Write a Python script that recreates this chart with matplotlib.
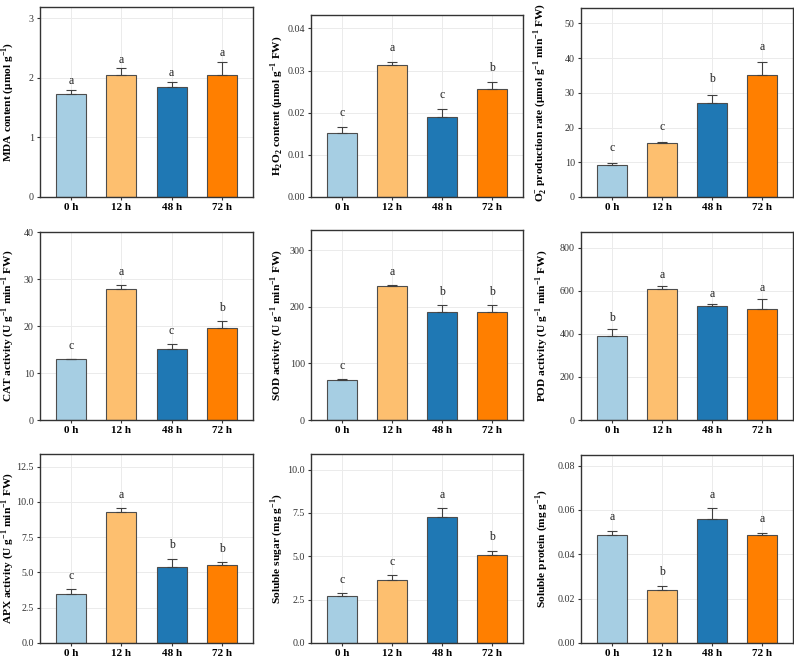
import matplotlib.pyplot as plt
import numpy as np

plt.rcParams['font.family'] = ['Liberation Serif', 'DejaVu Serif']
plt.rcParams['mathtext.fontset'] = 'custom'
plt.rcParams['mathtext.rm'] = 'Liberation Serif'
plt.rcParams['mathtext.bf'] = 'Liberation Serif:bold'

# Data
groups = ['0 h', '12 h', '48 h', '72 h']
colors = ['#a6cee3', '#fdbf6f', '#1f78b4', '#ff7f00']

mda = [1.73, 2.05, 1.85, 2.05]
mda_err = [0.07, 0.11, 0.08, 0.22]
mda_sig = ['a', 'a', 'a', 'a']

h2o2 = [0.0152, 0.0313, 0.0190, 0.0256]
h2o2_err = [0.0014, 0.0008, 0.0020, 0.0018]
h2o2_sig = ['c', 'a', 'c', 'b']

o2 = [9.3, 15.5, 27.1, 35.1]
o2_err = [0.5, 0.3, 2.4, 3.7]
o2_sig = ['c', 'c', 'b', 'a']

cat = [12.95, 27.9, 15.1, 19.7]
cat_err = [0.15, 0.85, 1.1, 1.4]
cat_sig = ['c', 'a', 'c', 'b']

sod = [70.9, 237.4, 190.8, 190.8]
sod_err = [1.7, 1.2, 12.2, 11.8]
sod_sig = ['c', 'a', 'b', 'b']

pod = [391.6, 608.0, 531.0, 514.0]
pod_err = [31.0, 17.0, 6.0, 49.0]
pod_sig = ['b', 'a', 'a', 'a']

apx = [3.49, 9.27, 5.38, 5.54]
apx_err = [0.31, 0.28, 0.59, 0.19]
apx_sig = ['c', 'a', 'b', 'b']

sugar = [2.72, 3.64, 7.24, 5.06]
sugar_err = [0.15, 0.27, 0.52, 0.25]
sugar_sig = ['c', 'c', 'a', 'b']

protein = [0.0486, 0.0237, 0.0558, 0.0488]
protein_err = [0.0020, 0.0020, 0.0050, 0.0010]
protein_sig = ['a', 'b', 'a', 'a']

panels = [
    (mda, mda_err, mda_sig, r'MDA content ($\mathbf{\mu}$mol g$^{\mathbf{-1}}$)', 3.19, [0, 1, 2, 3], '%g', 2),
    (h2o2, h2o2_err, h2o2_sig, r'H$_{\mathbf{2}}$O$_{\mathbf{2}}$ content ($\mathbf{\mu}$mol g$^{\mathbf{-1}}$ FW)', 0.0432,
     [0, 0.01, 0.02, 0.03, 0.04], '%.2f', 5.5),
    (o2, o2_err, o2_sig, r'O$_{\mathbf{2}}^{\mathbf{-}}$ production rate ($\mathbf{\mu}$mol g$^{\mathbf{-1}}$ min$^{\mathbf{-1}}$ FW)', 54.4,
     [0, 10, 20, 30, 40, 50], '%g', 6.5),
    (cat, cat_err, cat_sig, r'CAT activity (U g$^{\mathbf{-1}}$ min$^{\mathbf{-1}}$ FW)', 40.1, [0, 10, 20, 30, 40], '%g', 5),
    (sod, sod_err, sod_sig, r'SOD activity (U g$^{\mathbf{-1}}$ min$^{\mathbf{-1}}$ FW)', 336, [0, 100, 200, 300], '%g', 5),
    (pod, pod_err, pod_sig, r'POD activity (U g$^{\mathbf{-1}}$ min$^{\mathbf{-1}}$ FW)', 874, [0, 200, 400, 600, 800], '%g', 3.5),
    (apx, apx_err, apx_sig, r'APX activity (U g$^{\mathbf{-1}}$ min$^{\mathbf{-1}}$ FW)', 13.4,
     [0, 2.5, 5, 7.5, 10, 12.5], '%.1f', 5.5),
    (sugar, sugar_err, sugar_sig, r'Soluble sugar (mg g$^{\mathbf{-1}}$)', 10.9, [0, 2.5, 5, 7.5, 10], '%.1f', 5.5),
    (protein, protein_err, protein_sig, r'Soluble protein (mg g$^{\mathbf{-1}}$)', 0.0848,
     [0, 0.02, 0.04, 0.06, 0.08], '%.2f', 5.5),
]

# axes boxes in pixels: left, top, right, bottom
boxes = [
    (40, 7, 253, 197), (311, 15, 523, 197), (581, 8, 793, 197),
    (40, 232, 253, 420), (311, 230, 523, 420), (581, 232, 793, 420),
    (40, 454, 253, 643), (311, 454, 523, 643), (581, 455, 793, 643),
]
# anchor x (pixels) of the rotated y label in each column
label_x = [16, 285, 550]

W, H = 794, 659
fig = plt.figure(figsize=(W / 100, H / 100), dpi=100)

x = np.arange(len(groups))
for i, ((vals, errs, sig, ylab, ytop, yt, fmt, off), (l, t, r, b)) in enumerate(zip(panels, boxes)):
    ax = fig.add_axes([l / W, 1 - b / H, (r - l) / W, (b - t) / H])
    ax.set_axisbelow(True)
    ax.grid(True, color='#ebebeb', linewidth=0.7)
    ax.bar(x, vals, width=0.6, color=colors, edgecolor='#4d4d4d', linewidth=0.8)
    ax.errorbar(x, vals, yerr=[np.zeros(len(vals)), errs], fmt='none',
                ecolor='#404040', elinewidth=0.8, capsize=3.8, capthick=0.8)
    for xi, v, e, s in zip(x, vals, errs, sig):
        ax.annotate(s, (xi, v + e), xytext=(0, off), textcoords='offset points',
                    ha='center', va='bottom', fontsize=8.5, color='#222222')
    ax.set_xlim(-0.62, 3.62)
    ax.set_ylim(0, ytop)
    ax.set_xticks(x)
    ax.set_xticklabels(groups, fontweight='bold', fontsize=8)
    ax.set_yticks(yt)
    ax.set_yticklabels([fmt % v for v in yt], fontsize=7.2, color='#333333')
    ax.set_ylabel(ylab, fontweight='bold', fontsize=8.2)
    ax.yaxis.set_label_coords((label_x[i % 3] - l) / (r - l), 0.5)
    ax.tick_params(length=2.5, width=0.8, color='#333333', pad=2)
    for sp in ax.spines.values():
        sp.set_color('#333333')
        sp.set_linewidth(1.0)

fig.savefig('out.png', dpi=100)
